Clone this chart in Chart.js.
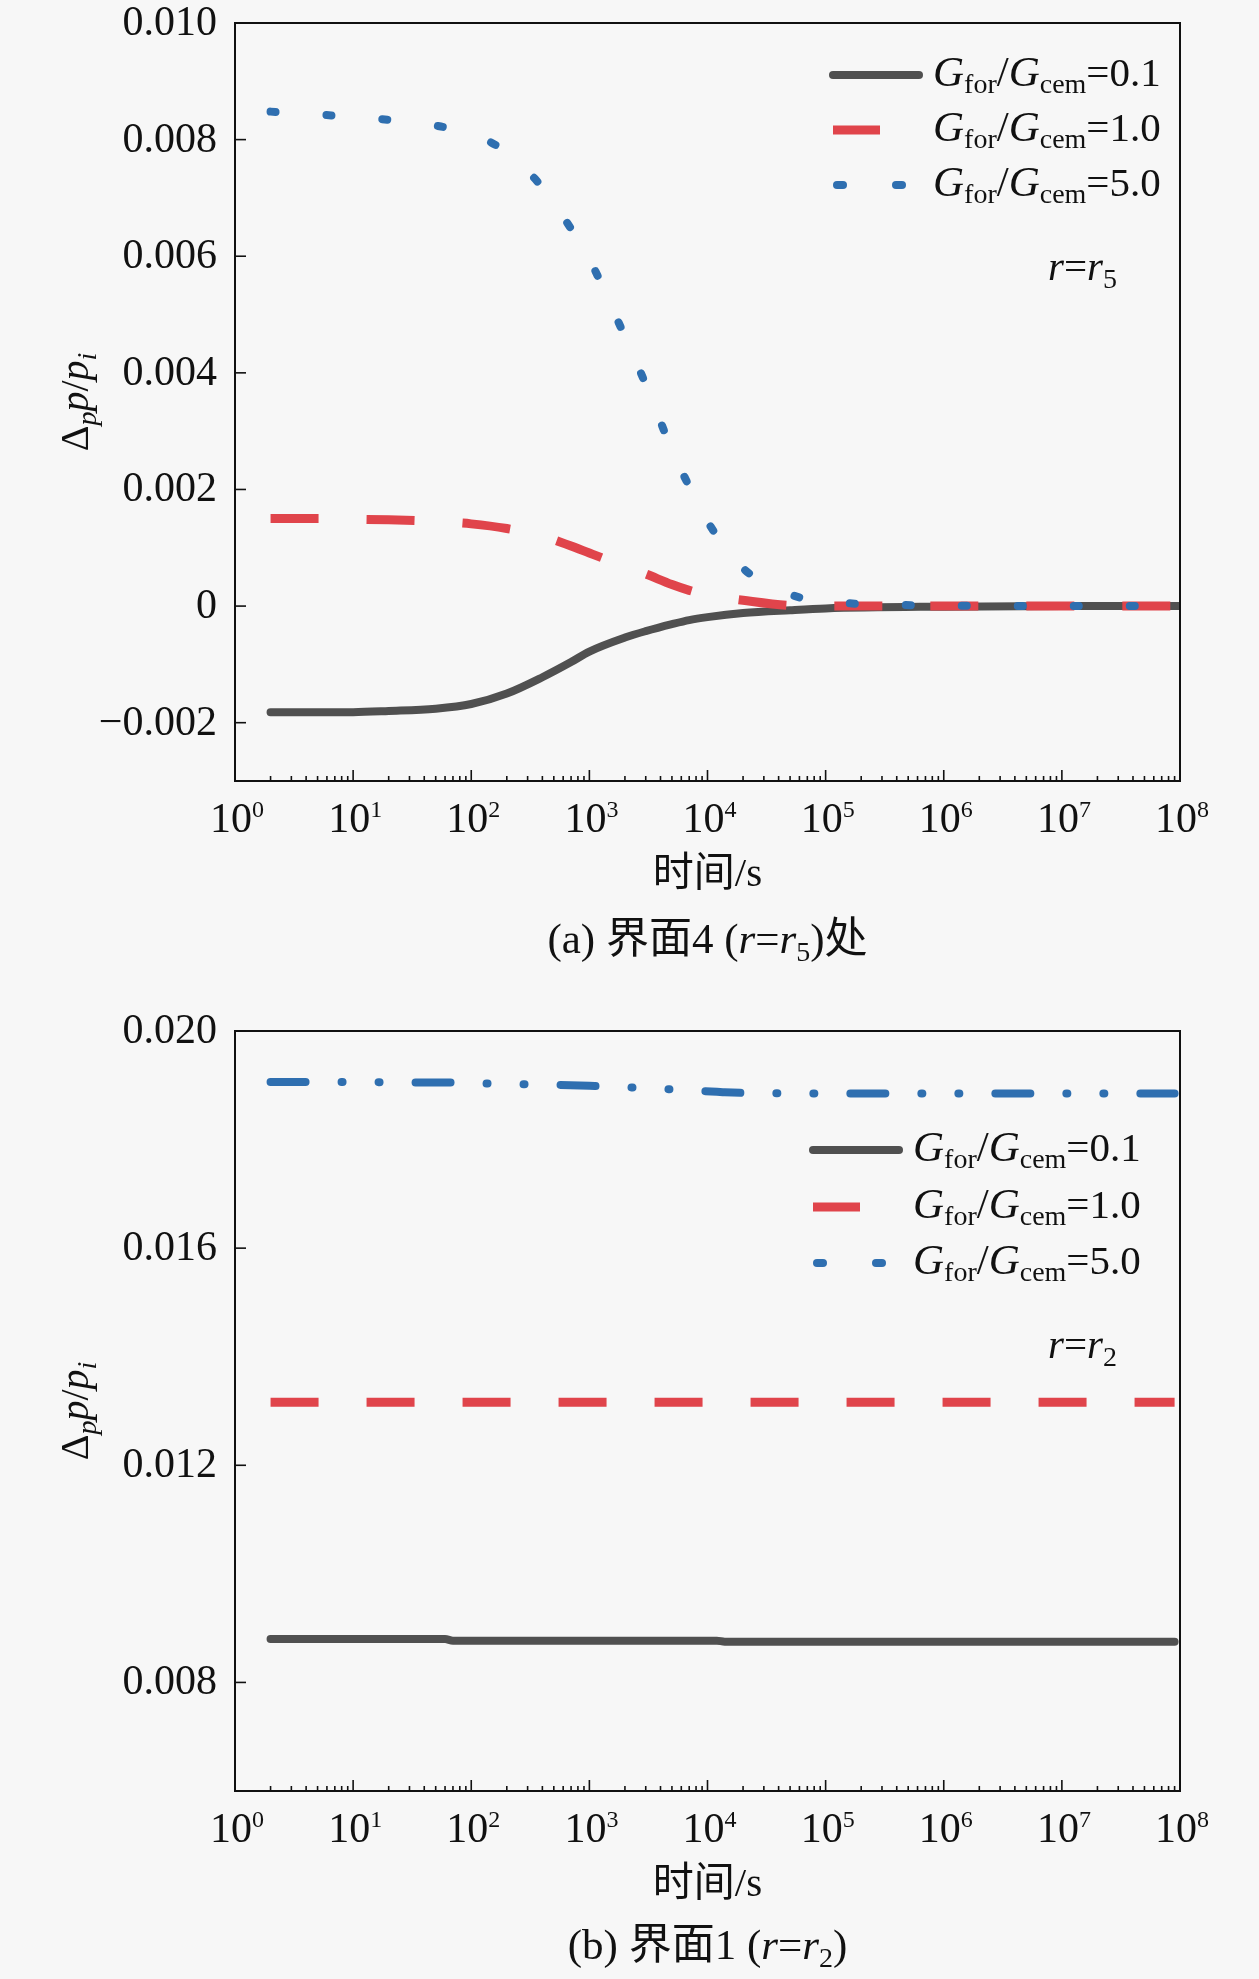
<!DOCTYPE html>
<html lang="zh">
<head>
<meta charset="utf-8">
<title>Δp/pi 随时间变化</title>
<script src="https://cdn.jsdelivr.net/npm/chart.js@4.4.1/dist/chart.umd.min.js"></script>
<style>
  html, body { margin: 0; padding: 0; background: #f7f7f7; }
  #wrap { position: relative; width: 1259px; height: 1979px; }
  canvas { position: absolute; left: 0; }
  #chart-a { top: 0; }
  #chart-b { top: 1000px; }
</style>
</head>
<body>
<div id="wrap">
  <canvas id="chart-a" width="1259" height="1000"></canvas>
  <canvas id="chart-b" width="1259" height="979"></canvas>
</div>
<script>
// (a) 界面4 (r=r5)
const timeA = [2, 5, 10, 20, 50, 100, 200, 400, 700, 1000, 2000, 3000, 5000, 7000, 10000, 20000, 50000, 1e5, 1e6, 1e7, 1e8];
const ratio01A = [-0.00182, -0.00182, -0.00182, -0.0018, -0.00176, -0.00168, -0.0015, -0.00122, -0.00096, -0.00078, -0.00054, -0.00043, -0.00031, -0.00024, -0.00019, -0.00012, -0.00007, -0.00004, -0.00001, 0, 0];
const ratio10A = [0.0015, 0.0015, 0.00149, 0.00148, 0.00145, 0.00141, 0.00133, 0.0012, 0.00103, 0.00091, 0.00068, 0.00055, 0.00037, 0.00027, 0.00019, 0.0001, 0.00001, 0, 0, 0, 0];
const ratio50A = [0.00848, 0.00843, 0.00839, 0.00834, 0.00824, 0.0081, 0.00778, 0.00718, 0.00647, 0.00595, 0.00462, 0.0038, 0.00268, 0.00205, 0.00145, 0.00065, 0.0002, 0.00008, 0.00001, 0, 0];

// (b) 界面1 (r=r2)
const timeB = [2, 10, 60, 70, 100, 1000, 12000, 14000, 1e5, 1e6, 1e7, 9e7];
const ratio01B = [0.0088, 0.0088, 0.0088, 0.00877, 0.00877, 0.00877, 0.00877, 0.00875, 0.00875, 0.00875, 0.00875, 0.00875];
const ratio10B = [0.01316, 0.01316, 0.01316, 0.01316, 0.01316, 0.01316, 0.01316, 0.01316, 0.01316, 0.01316, 0.01316, 0.01316];
const ratio50B = [0.01906, 0.01906, 0.01905, 0.01905, 0.01904, 0.01899, 0.01888, 0.01887, 0.01885, 0.01885, 0.01885, 0.01885];

const yTicksA = [0.010, 0.008, 0.006, 0.004, 0.002, 0, -0.002];
const yLabelsA = ["0.010", "0.008", "0.006", "0.004", "0.002", "0", "\u22120.002"];
const yTicksB = [0.020, 0.016, 0.012, 0.008];
const yLabelsB = ["0.020", "0.016", "0.012", "0.008"];
const xExponents = [0, 1, 2, 3, 4, 5, 6, 7, 8];
const ratioNames = ["0.1", "1.0", "5.0"];

const SERIF = '"Liberation Serif", "Times New Roman", "Noto Sans CJK SC", serif';
const BLACK = "#505050";
const RED = "#e0444b";
const BLUE = "#2f6fb0";

function fontOf(p) {
  return `${p.i ? "italic " : ""}${p.s}px ${SERIF}`;
}

// 下付き文字を含むテキストを左から順に描く
function drawRich(ctx, parts, x, y, align) {
  let w = 0;
  parts.forEach((p) => { ctx.font = fontOf(p); w += ctx.measureText(p.t).width; });
  let cx = align === "center" ? x - w / 2 : align === "right" ? x - w : x;
  parts.forEach((p) => {
    ctx.font = fontOf(p);
    ctx.fillText(p.t, cx, y + (p.dy || 0));
    cx += ctx.measureText(p.t).width;
  });
}

const gLabel = (v) => [
  { t: "G", i: true, s: 43 }, { t: "for", s: 28, dy: 7 }, { t: "/", s: 43 },
  { t: "G", i: true, s: 43 }, { t: "cem", s: 28, dy: 7 }, { t: "=" + v, s: 41 },
];
const yTitle = [
  { t: "\u0394", s: 40 }, { t: "p", i: true, s: 28, dy: 8 }, { t: "p", i: true, s: 40 },
  { t: "/", s: 40 }, { t: "p", i: true, s: 40 }, { t: "i", i: true, s: 28, dy: 8 },
];
const rLabel = (n) => [
  { t: "r", i: true, s: 41 }, { t: "=", s: 41 }, { t: "r", i: true, s: 41 }, { t: n, s: 28, dy: 8 },
];

function makeDecor(cfg) {
  return {
    id: "decor",
    afterDraw(chart) {
      const { ctx, chartArea: a, scales: { x, y } } = chart;
      ctx.save();
      ctx.fillStyle = "#111";
      ctx.strokeStyle = "#111";

      // 枠
      ctx.lineWidth = 2;
      ctx.strokeRect(a.left, a.top, a.right - a.left, a.bottom - a.top);

      // x 目盛り（内向き）
      ctx.lineWidth = 1.6;
      xExponents.forEach((e) => {
        for (let m = 1; m <= 9; m++) {
          const v = m * Math.pow(10, e);
          if (v > 1e8) break;
          const px = x.getPixelForValue(v);
          ctx.beginPath();
          ctx.moveTo(px, a.bottom);
          ctx.lineTo(px, a.bottom - (m === 1 ? 11 : 5));
          ctx.stroke();
        }
      });
      // y 目盛り（内向き）
      cfg.yTicks.forEach((v) => {
        const py = y.getPixelForValue(v);
        ctx.beginPath();
        ctx.moveTo(a.left, py);
        ctx.lineTo(a.left + 11, py);
        ctx.stroke();
      });

      // y 目盛りラベル
      ctx.textBaseline = "middle";
      ctx.textAlign = "right";
      ctx.font = `42px ${SERIF}`;
      cfg.yTicks.forEach((v, i) => {
        ctx.fillText(cfg.yLabels[i], a.left - 18, y.getPixelForValue(v) + 1);
      });

      // x 目盛りラベル 10^n
      ctx.textAlign = "left";
      ctx.textBaseline = "alphabetic";
      xExponents.forEach((e) => {
        const px = x.getPixelForValue(Math.pow(10, e));
        drawRich(ctx, [{ t: "10", s: 42 }, { t: String(e), s: 24, dy: -15 }], px + 2, a.bottom + 51, "center");
      });

      // 軸タイトル
      ctx.font = `41px ${SERIF}`;
      ctx.textAlign = "center";
      ctx.fillText("时间/s", (a.left + a.right) / 2, a.bottom + 105);
      ctx.textAlign = "left";
      ctx.save();
      ctx.translate(88, (a.top + a.bottom) / 2);
      ctx.rotate(-Math.PI / 2);
      drawRich(ctx, yTitle, 0, 0, "center");
      ctx.restore();

      // 図番号
      drawRich(ctx, cfg.caption, (a.left + a.right) / 2, a.bottom + cfg.captionDy, "center");

      // 注記 r=r_n
      drawRich(ctx, rLabel(cfg.rSub), cfg.rPos[0], cfg.rPos[1], "left");

      // 凡例
      const L = cfg.legend;
      L.rows.forEach((ry, i) => {
        ctx.save();
        ctx.lineCap = "round";
        if (i === 0) {
          ctx.strokeStyle = BLACK; ctx.lineWidth = 8;
          ctx.beginPath(); ctx.moveTo(L.x0, ry); ctx.lineTo(L.x0 + 86, ry); ctx.stroke();
        } else if (i === 1) {
          ctx.strokeStyle = RED; ctx.lineWidth = 9; ctx.lineCap = "butt";
          ctx.beginPath(); ctx.moveTo(L.x0, ry); ctx.lineTo(L.x0 + 47, ry); ctx.stroke();
        } else {
          ctx.strokeStyle = BLUE; ctx.lineWidth = 8;
          [L.x0 + 7, L.x0 + 66].forEach((dx) => {
            ctx.beginPath(); ctx.moveTo(dx - 3, ry); ctx.lineTo(dx + 3, ry); ctx.stroke();
          });
        }
        ctx.restore();
        drawRich(ctx, gLabel(ratioNames[i]), L.textX, ry + 11, "left");
      });
      ctx.restore();
    },
  };
}

function points(xs, ys) {
  return xs.map((t, i) => ({ x: t, y: ys[i] }));
}

function makeChart(id, xs, s01, s10, s50, yMin, yMax, plotTop, xAxisHeight, blueDash, cfg) {
  return new Chart(document.getElementById(id), {
    type: "line",
    data: {
      datasets: [
        { label: "G_for/G_cem=0.1", data: points(xs, s01), borderColor: BLACK, borderWidth: 8,
          borderCapStyle: "round", order: 3 },
        { label: "G_for/G_cem=1.0", data: points(xs, s10), borderColor: RED, borderWidth: 9,
          borderDash: [48, 48], order: 2 },
        { label: "G_for/G_cem=5.0", data: points(xs, s50), borderColor: BLUE, borderWidth: 8,
          borderDash: blueDash, borderCapStyle: "round", order: 1 },
      ],
    },
    options: {
      responsive: false,
      animation: false,
      events: [],
      layout: { padding: { top: plotTop, right: 79, left: 0, bottom: 0 } },
      elements: { point: { radius: 0 }, line: { cubicInterpolationMode: "monotone", fill: false } },
      plugins: { legend: { display: false }, tooltip: { enabled: false } },
      scales: {
        x: {
          type: "logarithmic", min: 1, max: 1e8,
          ticks: { display: false }, grid: { display: false }, border: { display: false },
          afterFit: (s) => { s.height = xAxisHeight; },
        },
        y: {
          type: "linear", min: yMin, max: yMax,
          ticks: { display: false }, grid: { display: false }, border: { display: false },
          afterFit: (s) => { s.width = 235; },
        },
      },
    },
    plugins: [makeDecor(cfg)],
  });
}

makeChart("chart-a", timeA, ratio01A, ratio10A, ratio50A, -0.003, 0.010, 23, 1000 - 781, [5, 51], {
  yTicks: yTicksA, yLabels: yLabelsA, rSub: "5", rPos: [1048, 280], captionDy: 172,
  caption: [{ t: "(a) 界面4 (", s: 43 }, { t: "r", i: true, s: 43 }, { t: "=", s: 43 },
    { t: "r", i: true, s: 43 }, { t: "5", s: 28, dy: 8 }, { t: ")处", s: 43 }],
  legend: { x0: 833, textX: 933, rows: [75, 130, 185] },
});

makeChart("chart-b", timeB, ratio01B, ratio10B, ratio50B, 0.006, 0.020, 31, 979 - 791, [35, 36, 1, 36, 1, 36], {
  yTicks: yTicksB, yLabels: yLabelsB, rSub: "2", rPos: [1048, 358], captionDy: 168,
  caption: [{ t: "(b) 界面1 (", s: 43 }, { t: "r", i: true, s: 43 }, { t: "=", s: 43 },
    { t: "r", i: true, s: 43 }, { t: "2", s: 28, dy: 8 }, { t: ")", s: 43 }],
  legend: { x0: 813, textX: 913, rows: [150, 207, 263] },
});
</script>
</body>
</html>
